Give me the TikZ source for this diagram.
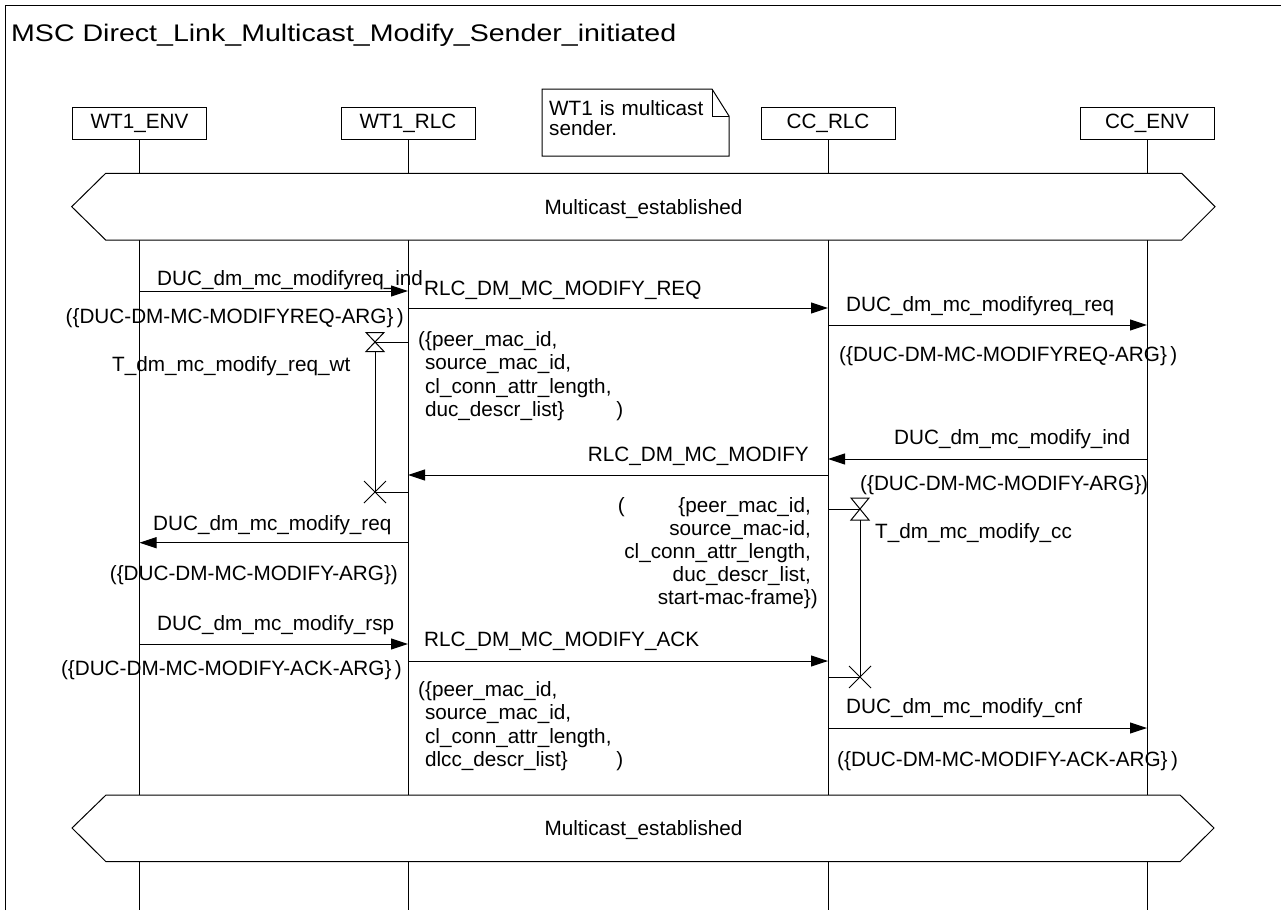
\documentclass[tikz,border=0pt]{standalone}
\usepackage{fontspec}
\usepackage{graphicx}
\setmainfont{Liberation Sans}
\usetikzlibrary{arrows.meta}

\tikzset{
  inst/.style={rectangle, draw, line width=1pt, minimum width=134pt, minimum height=32pt, inner sep=0pt},
  life/.style={line width=1pt},
  msg/.style={line width=1pt, -{Triangle[length=17pt,width=11pt]}},
  lbl/.style={inner sep=0pt, anchor=base west},
  lblr/.style={inner sep=0pt, anchor=base east},
}

\begin{document}
\begin{tikzpicture}[x=1pt, y=-1pt, font=\fontsize{20.7}{23.2}\selectfont]
            \useasboundingbox (0,0) rectangle (1281,910);
            % Frame and title
            \draw[life] (5,910) -- (5,5) -- (1281,5);
            \node (title) [lbl, font=\fontsize{24}{28}\selectfont] at (11,41.7) {\scalebox{1.19}[1]{MSC Direct\_Link\_Multicast\_Modify\_Sender\_initiated}};

            % Nodes
            \node (wenv) [inst] at (139.5,123) {WT1\_ENV};
            \node (wrlc) [inst] at (408,123) {WT1\_RLC};
            \node (crlc) [inst] at (828,123) {CC\_RLC};
            \node (cenv) [inst] at (1147,123) {CC\_ENV};
            \coordinate (bot) at (0,910);

            % comment
            \draw[life] (542,89) -- (712,89) -- (729,116) -- (729,156) -- (542,156) -- cycle;
            \draw[life] (712,89) -- (712,116) -- (729,116);
            \node (note) [lbl, text width=165pt, align=left, font=\fontsize{20.7}{20.7}\selectfont] at (549,115) {WT1 is multicast\\ sender.};

            % lifelines
            \draw[life] (wenv.south) -- (wenv |- bot);
            \draw[life] (wrlc.south) -- (wrlc |- bot);
            \draw[life] (crlc.south) -- (crlc |- bot);
            \draw[life] (cenv.south) -- (cenv |- bot);

            % conditions
            \draw[life, fill=white] (105.7,173.3) -- (1181.7,173.3) -- (1215,206.7) -- (1181.7,240) -- (105.7,240) -- (71.7,206.7) -- cycle;
            \node (est1) [anchor=base, inner sep=0pt] at (643.5,214) {Multicast\_established};
            \draw[life, fill=white] (106,795) -- (1180,795) -- (1214,828) -- (1180,861.7) -- (106,861.7) -- (72,828) -- cycle;
            \node (est2) [anchor=base, inner sep=0pt] at (643.5,835) {Multicast\_established};

            % message levels
            \coordinate (y1) at (0,291);
            \coordinate (y2) at (0,308);
            \coordinate (y3) at (0,325);
            \coordinate (y4) at (0,459);
            \coordinate (y5) at (0,475);
            \coordinate (y6) at (0,542.7);
            \coordinate (y7) at (0,644);
            \coordinate (y8) at (0,661);
            \coordinate (y9) at (0,728);

            % Edges
            \draw[msg] (wenv |- y1) -- (wrlc |- y1);
            \draw[msg] (wrlc |- y2) -- (crlc |- y2);
            \draw[msg] (crlc |- y3) -- (cenv |- y3);
            \draw[msg] (cenv |- y4) -- (crlc |- y4);
            \draw[msg] (crlc |- y5) -- (wrlc |- y5);
            \draw[msg] (wrlc |- y6) -- (wenv |- y6);
            \draw[msg] (wenv |- y7) -- (wrlc |- y7);
            \draw[msg] (wrlc |- y8) -- (crlc |- y8);
            \draw[msg] (crlc |- y9) -- (cenv |- y9);

            % message labels
            \node (m1) [lbl] at (157,285) {DUC\_dm\_mc\_modifyreq\_ind};
            \node (a1) [lblr] at (404,323) {(\{DUC-DM-MC-MODIFYREQ-ARG\}\,)};
            \node (m2) [lbl] at (424,295) {RLC\_DM\_MC\_MODIFY\_REQ};
            \node (a2) [lbl, text width=205pt, align=left] at (418,346.7) {(\{peer\_mac\_id,\\ \phantom{(}source\_mac\_id,\\ \phantom{(}cl\_conn\_attr\_length,\\ \phantom{(}duc\_descr\_list\}\hfill)};
            \node (m3) [lbl] at (846,311.7) {DUC\_dm\_mc\_modifyreq\_req};
            \node (a3) [lbl] at (839,361.7) {(\{DUC-DM-MC-MODIFYREQ-ARG\}\,)};
            \node (m4) [lbl] at (894,444) {DUC\_dm\_mc\_modify\_ind};
            \node (a4) [lbl] at (860,490) {(\{DUC-DM-MC-MODIFY-ARG\})};
            \node (m5) [lblr] at (809,461.7) {RLC\_DM\_MC\_MODIFY};
            \node (a5) [lblr, text width=193pt, align=right] at (811,512) {(\hfill\{peer\_mac\_id,\\ source\_mac-id,\\ cl\_conn\_attr\_length,\\ duc\_descr\_list,\\ start-mac-frame\}\rlap{)}};
            \node (m6) [lbl] at (153,530) {DUC\_dm\_mc\_modify\_req};
            \node (a6) [lblr] at (398,580) {(\{DUC-DM-MC-MODIFY-ARG\})};
            \node (m7) [lbl] at (157,630) {DUC\_dm\_mc\_modify\_rsp};
            \node (a7) [lblr] at (402,675) {(\{DUC-DM-MC-MODIFY-ACK-ARG\}\,)};
            \node (m8) [lbl] at (424,646.7) {RLC\_DM\_MC\_MODIFY\_ACK};
            \node (a8) [lbl, text width=205pt, align=left] at (418,696.7) {(\{peer\_mac\_id,\\ \phantom{(}source\_mac\_id,\\ \phantom{(}cl\_conn\_attr\_length,\\ \phantom{(}dlcc\_descr\_list\}\hfill)};
            \node (m9) [lbl] at (846,713) {DUC\_dm\_mc\_modify\_cnf};
            \node (a9) [lbl] at (837,766) {(\{DUC-DM-MC-MODIFY-ACK-ARG\}\,)};

            % timers
            \coordinate (t1) at (375,342);
            \coordinate (t1x) at (375,492);
            \draw[life] (wrlc |- t1) -- (t1);
            \draw[life] (t1) ++(-9,-9.5) -- ++(18,0) -- ++(-18,19) -- ++(18,0) -- cycle;
            \draw[life] (t1) ++(0,9.5) -- (t1x);
            \draw[life] (wrlc |- t1x) -- (t1x);
            \draw[life] (t1x) ++(-11,-11) -- ++(22,22) ++(0,-22) -- ++(-22,22);
            \node (tn1) [lbl] at (112,371.7) {T\_dm\_mc\_modify\_req\_wt};

            \coordinate (t2) at (860,509);
            \coordinate (t2x) at (860,677);
            \draw[life] (crlc |- t2) -- (t2);
            \draw[life] (t2) ++(-9,-11) -- ++(18,0) -- ++(-18,22) -- ++(18,0) -- cycle;
            \draw[life] (t2) ++(0,11) -- (t2x);
            \draw[life] (crlc |- t2x) -- (t2x);
            \draw[life] (t2x) ++(-11,-11) -- ++(22,22) ++(0,-22) -- ++(-22,22);
            \node (tn2) [lbl] at (875,538) {T\_dm\_mc\_modify\_cc};

\end{tikzpicture}
\end{document}
